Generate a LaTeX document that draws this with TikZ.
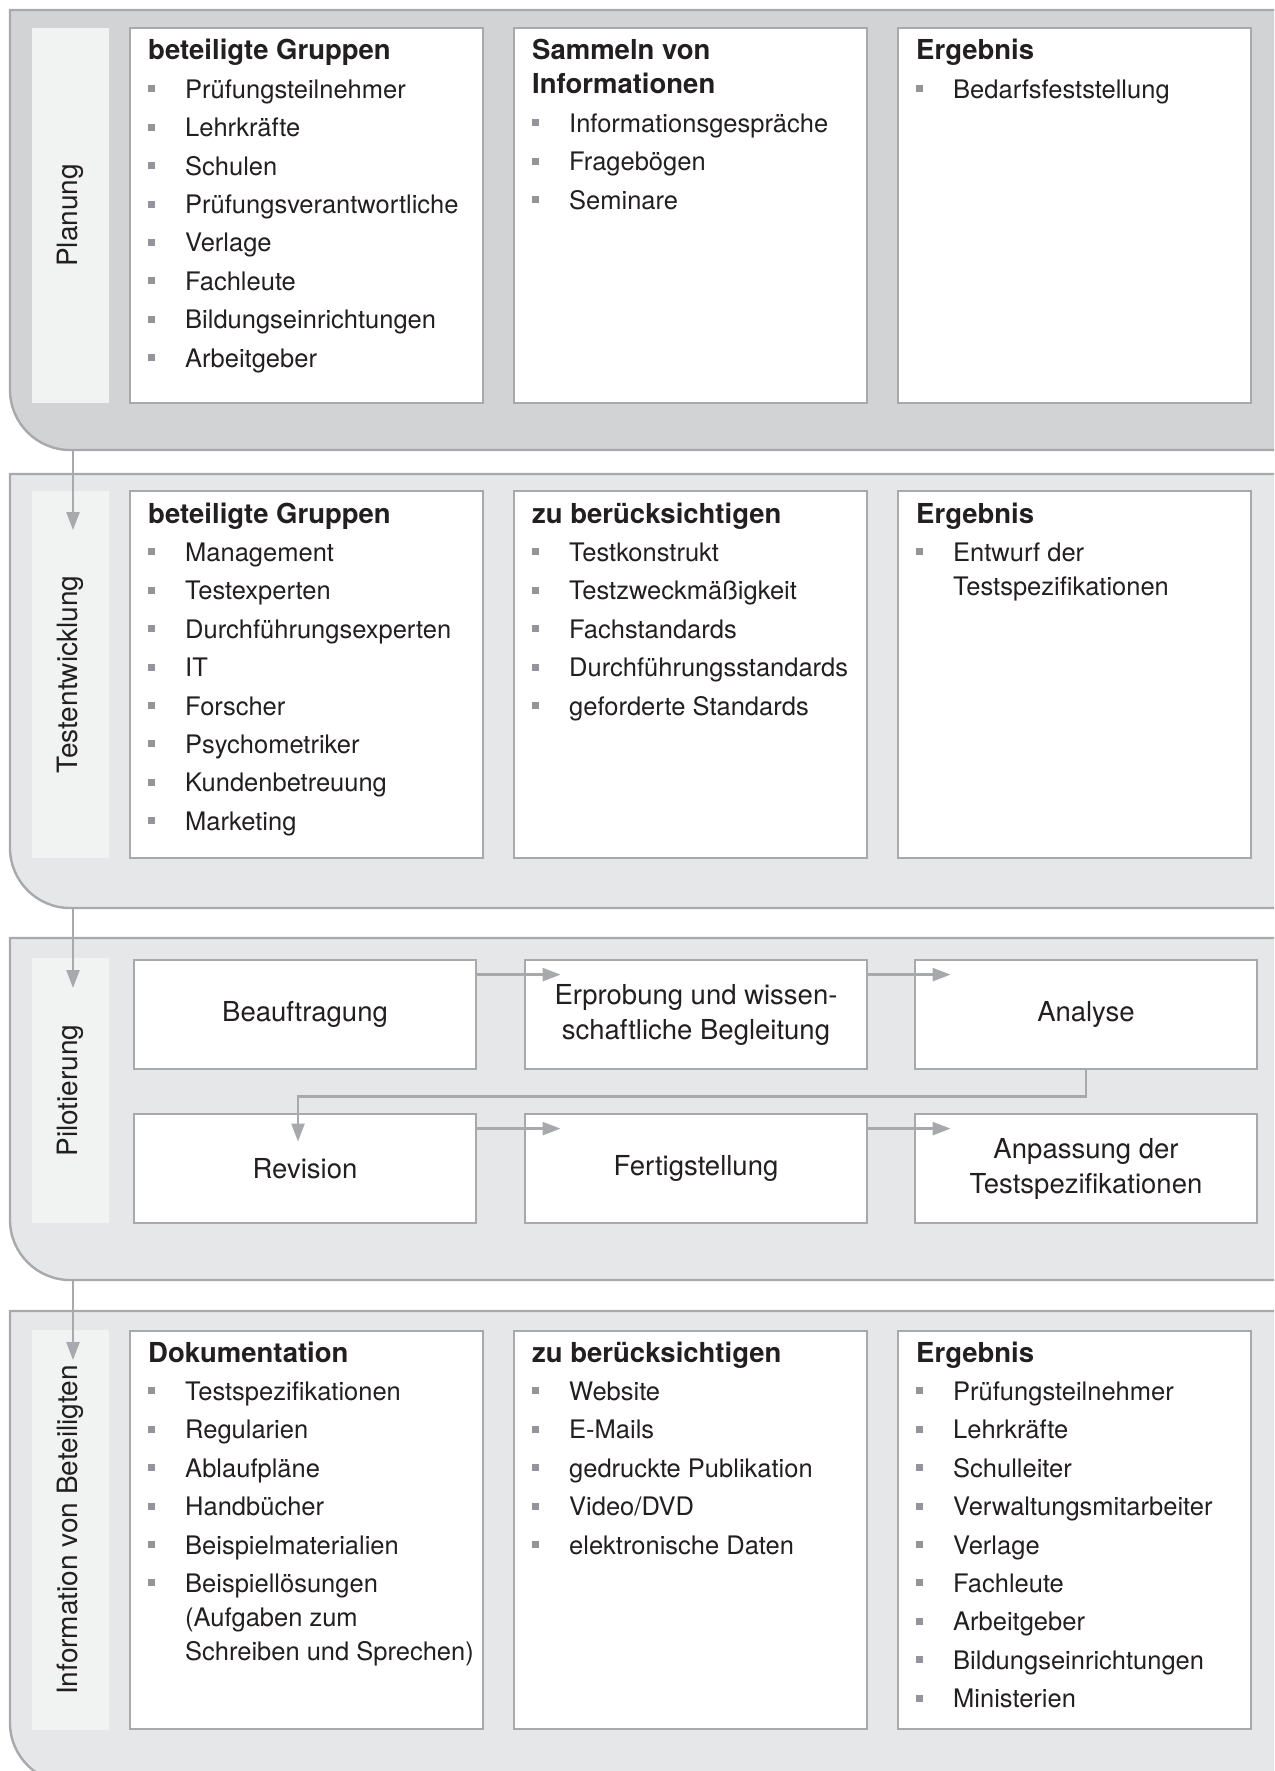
\documentclass[tikz,border=0pt]{standalone}
\usepackage{fontspec}
\setmainfont{TeX Gyre Heros}
\usetikzlibrary{arrows.meta,calc}
\definecolor{bandA}{HTML}{D1D3D4}
\definecolor{bandB}{HTML}{E6E7E8}
\definecolor{edge}{HTML}{A7A9AC}
\definecolor{stripc}{HTML}{F1F2F2}
\definecolor{bul}{HTML}{939598}
\definecolor{ink}{HTML}{231F20}
\newcommand\bsq{\textcolor{bul}{\rule[6pt]{7pt}{7pt}}}
\newcommand\hd[1]{{\fontsize{27.5}{34}\selectfont\bfseries #1\par}}
\newcommand\itm[1]{\hangindent=37pt\hangafter=1\noindent\makebox[37pt][l]{\bsq}#1\par}
\newenvironment{lst}{\begin{minipage}[t]{400pt}\fontsize{25.5}{34}\selectfont\setlength\parskip{4.4pt}\setlength\parindent{0pt}}{\end{minipage}}
\begin{document}
\begin{tikzpicture}[x=1pt,y=-1pt,
  bandline/.style={draw=edge, line width=2.4pt},
  lbox/.style={draw=edge, line width=2.8pt, fill=white, inner sep=0pt, minimum width=353pt},
  pbox/.style={draw=edge, line width=2.8pt, fill=white, inner sep=0pt, minimum width=342pt, minimum height=109pt, align=center, font=\fontsize{27.5}{35}\selectfont, text=ink},
  stripbox/.style={fill=stripc, inner sep=0pt, rotate=90, minimum height=77pt, font=\fontsize{28}{32}\selectfont, text=ink},
  txt/.style={anchor=base west, inner sep=0pt, text=ink},
  arr/.style={draw=edge, line width=2.4pt, -{Triangle[width=13pt,length=18pt]}}]
\useasboundingbox (0,0) rectangle (1274,1771);
\clip (0,0) rectangle (1274,1771);
% bands
\draw[bandline, fill=bandA] (1300,10) -- (10,10) -- (10,390) .. controls (10,423) and (37,450) .. (70,450) -- (1300,450) -- cycle;
\draw[bandline, fill=bandB] (1300,474) -- (10,474) -- (10,848) .. controls (10,881) and (37,908) .. (70,908) -- (1300,908) -- cycle;
\draw[bandline, fill=bandB] (1300,938) -- (10,938) -- (10,1220) .. controls (10,1253) and (37,1280) .. (70,1280) -- (1300,1280) -- cycle;
\draw[bandline, fill=bandB] (1300,1311) -- (10,1311) -- (10,1723) .. controls (10,1756) and (37,1783) .. (70,1783) -- (1300,1783) -- cycle;
% strips
\node[stripbox, minimum width=375pt] (s1) at (70.5,215.5) {Planung};
\node[stripbox, minimum width=367pt] (s2) at (70.5,674.5) {Testentwicklung};
\node[stripbox, minimum width=265pt] (s3) at (70.5,1090.5) {Pilotierung};
\node[stripbox, minimum width=400pt] (s4) at (70.5,1530) {Information von Beteiligten};
% arrows between bands
\coordinate (e1) at (73,450); \coordinate (t1) at (73,530);
\coordinate (e2) at (73,908); \coordinate (t2) at (73,988);
\coordinate (e3) at (73,1280); \coordinate (t3) at (73,1360);
\draw[arr] (e1) -- (t1);
\draw[arr] (e2) -- (t2);
\draw[arr] (e3) -- (t3);
% band 1
\node[lbox, minimum height=375pt] (a1) at (306.5,215.5) {};
\node[lbox, minimum height=375pt] (a2) at (690.5,215.5) {};
\node[lbox, minimum height=375pt] (a3) at (1074.5,215.5) {};
\node[txt] (a1t) at (148,60) {\begin{lst}\hd{beteiligte Gruppen}
\itm{Prüfungsteilnehmer}\itm{Lehrkräfte}\itm{Schulen}\itm{Prüfungsverantwortliche}\itm{Verlage}\itm{Fachleute}\itm{Bildungseinrichtungen}\itm{Arbeitgeber}\end{lst}};
\node[txt] (a2t) at (532,60) {\begin{lst}\hd{Sammeln von\\Informationen}
\itm{Informationsgespräche}\itm{Fragebögen}\itm{Seminare}\end{lst}};
\node[txt] (a3t) at (916,60) {\begin{lst}\hd{Ergebnis}
\itm{Bedarfsfeststellung}\end{lst}};
% band 2
\node[lbox, minimum height=367pt] (b1) at (306.5,674.5) {};
\node[lbox, minimum height=367pt] (b2) at (690.5,674.5) {};
\node[lbox, minimum height=367pt] (b3) at (1074.5,674.5) {};
\node[txt] (b1t) at (148,523) {\begin{lst}\hd{beteiligte Gruppen}
\itm{Management}\itm{Testexperten}\itm{Durchführungsexperten}\itm{IT}\itm{Forscher}\itm{Psychometriker}\itm{Kundenbetreuung}\itm{Marketing}\end{lst}};
\node[txt] (b2t) at (532,523) {\begin{lst}\hd{zu berücksichtigen}
\itm{Testkonstrukt}\itm{Testzweckmäßigkeit}\itm{Fachstandards}\itm{Durchführungsstandards}\itm{geforderte Standards}\end{lst}};
\node[txt] (b3t) at (916,523) {\begin{lst}\hd{Ergebnis}
\itm{Entwurf der\\Testspezifikationen}\end{lst}};
% band 3
\node[pbox] (p1) at (305,1014.5) {Beauftragung};
\node[pbox] (p2) at (696,1014.5) {Erprobung und wissen-\\schaftliche Begleitung};
\node[pbox] (p3) at (1086,1014.5) {Analyse};
\node[pbox] (p4) at (305,1168.5) {Revision};
\node[pbox] (p5) at (696,1168.5) {Fertigstellung};
\node[pbox] (p6) at (1086,1168.5) {Anpassung der\\Testspezifikationen};
\draw[arr] ($(p1.north east)+(0,16)$) -- ($(p2.north west)+(37,16)$);
\draw[arr] ($(p2.north east)+(0,16)$) -- ($(p3.north west)+(37,16)$);
\draw[arr] ($(p4.north east)+(0,16)$) -- ($(p5.north west)+(37,16)$);
\draw[arr] ($(p5.north east)+(0,16)$) -- ($(p6.north west)+(37,16)$);
\draw[arr] (p3.south) -- ++(0,26) -| ($(p4.north)+(-7,29)$);
% band 4
\node[lbox, minimum height=398pt] (d1) at (306.5,1530) {};
\node[lbox, minimum height=398pt] (d2) at (690.5,1530) {};
\node[lbox, minimum height=398pt] (d3) at (1074.5,1530) {};
\node[txt] (d1t) at (148,1362) {\begin{lst}\hd{Dokumentation}
\itm{Testspezifikationen}\itm{Regularien}\itm{Ablaufpläne}\itm{Handbücher}\itm{Beispielmaterialien}\itm{Beispiellösungen\\(Aufgaben zum\\Schreiben und Sprechen)}\end{lst}};
\node[txt] (d2t) at (532,1362) {\begin{lst}\hd{zu berücksichtigen}
\itm{Website}\itm{E-Mails}\itm{gedruckte Publikation}\itm{Video/DVD}\itm{elektronische Daten}\end{lst}};
\node[txt] (d3t) at (916,1362) {\begin{lst}\hd{Ergebnis}
\itm{Prüfungsteilnehmer}\itm{Lehrkräfte}\itm{Schulleiter}\itm{Verwaltungsmitarbeiter}\itm{Verlage}\itm{Fachleute}\itm{Arbeitgeber}\itm{Bildungseinrichtungen}\itm{Ministerien}\end{lst}};
\end{tikzpicture}
\end{document}
